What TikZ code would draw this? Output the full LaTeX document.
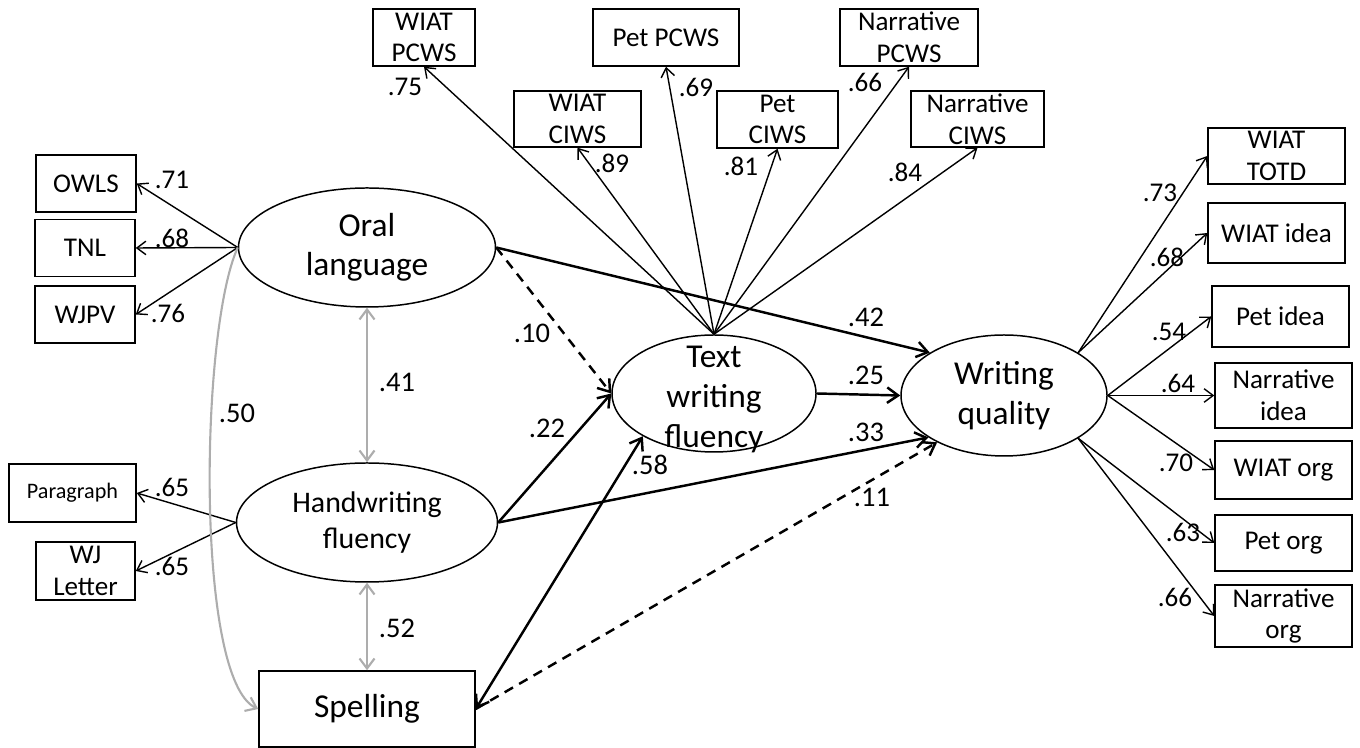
\documentclass[tikz,border=0pt]{standalone}
\usepackage{fontspec}
\setmainfont{Carlito}
\usetikzlibrary{arrows.meta, shapes.geometric}

\begin{document}
\begin{tikzpicture}[
    obs/.style={rectangle, draw, line width=0.85pt, inner sep=0pt, minimum width=#1,
                minimum height=1.14cm, align=center, font=\fontsize{15.4}{18}\selectfont},
    lat/.style={ellipse, draw, line width=0.85pt, inner sep=0pt, align=center,
                font=\fontsize{19}{22.5}\selectfont},
    ind/.style={-{Straight Barb[length=1.8mm,width=2.7mm]}, line width=0.8pt},
    effect/.style={-{Straight Barb[length=2.2mm,width=3.1mm]}, line width=1.4pt},
    cor/.style={{Straight Barb[length=2mm,width=3mm]}-{Straight Barb[length=2mm,width=3mm]},
                black!32, line width=1.2pt},
    lbl/.style={inner sep=0pt, font=\fontsize{15.4}{17}\selectfont},
    biglbl/.style={inner sep=0pt, font=\fontsize{16.2}{18}\selectfont},
  ]
    \useasboundingbox (0,0) rectangle (27.2,14.96);

    % indicators, left
    \node[obs=2cm] (owls) at (1.72,11.29) {OWLS};
    \node[obs=2cm] (tnl)  at (1.70,10.00) {TNL};
    \node[obs=2cm] (wjpv) at (1.70,8.67)  {WJPV};
    \node[obs=2.54cm, minimum height=1.16cm, font=\fontsize{12.6}{15}\selectfont] (para) at (1.45,5.10) {Paragraph};
    \node[obs=1.98cm, minimum height=1.16cm, font=\fontsize{15.4}{18}\selectfont] (wjlet) at (1.71,3.54) {WJ\\Letter};

    % indicators, top
    \node[obs=2.04cm] (wpcws) at (8.48,14.21)  {WIAT\\PCWS};
    \node[obs=2.92cm] (ppcws) at (13.32,14.21) {Pet PCWS};
    \node[obs=2.76cm] (npcws) at (18.18,14.21) {Narrative\\PCWS};
    \node[obs=2.54cm, minimum height=1.12cm] (wciws) at (11.55,12.58) {WIAT\\CIWS};
    \node[obs=2.42cm] (pciws) at (15.55,12.57) {Pet\\CIWS};
    \node[obs=2.66cm, minimum height=1.12cm] (nciws) at (19.55,12.58) {Narrative\\CIWS};

    % indicators, right
    \node[obs=2.74cm, minimum height=1.12cm] (totd)  at (25.53,11.84) {WIAT\\TOTD};
    \node[obs=2.74cm, minimum height=1.20cm] (widea) at (25.53,10.30) {WIAT idea};
    \node[obs=2.74cm, minimum height=1.22cm] (pidea) at (25.61,8.63)  {Pet idea};
    \node[obs=2.74cm, minimum height=1.30cm] (nidea) at (25.67,7.05)  {Narrative\\idea};
    \node[obs=2.74cm, minimum height=1.16cm] (worg)  at (25.67,5.56)  {WIAT org};
    \node[obs=2.74cm, minimum height=1.12cm] (porg)  at (25.67,4.10)  {Pet org};
    \node[obs=2.74cm, minimum height=1.24cm] (norg)  at (25.67,2.64)  {Narrative\\org};

    % latent variables
    \node[lat, minimum width=5.14cm, minimum height=2.38cm] (oral) at (7.34,10.01) {Oral\\language};
    \node[lat, minimum width=5.22cm, minimum height=2.38cm, font=\fontsize{17}{20.5}\selectfont] (hand) at (7.34,4.51) {Handwriting\\fluency};
    \node[lat, minimum width=4.08cm, minimum height=2.34cm] (twf) at (14.28,7.09) {};
    \node[inner sep=0pt, align=center, font=\fontsize{19}{23}\selectfont] (twftext) at (14.28,6.97) {Text\\writing\\fluency};
    \node[lat, minimum width=4.12cm, minimum height=2.42cm] (wq) at (20.08,7.05) {Writing\\quality};
    \node[obs=4.32cm, minimum height=1.52cm, font=\fontsize{19}{22}\selectfont] (spell) at (7.34,0.78) {Spelling};

    % loadings
    \foreach \b in {owls,tnl,wjpv} \draw[ind] (oral.west) -- (\b.east);
    \foreach \b in {para,wjlet} \draw[ind] (hand.west) -- (\b.east);
    \foreach \b in {wpcws,wciws,ppcws,pciws,npcws,nciws} \draw[ind] (twf.north) -- (\b.south);
    \foreach \b in {totd,widea} \draw[ind] (wq.30) -- (\b.west);
    \foreach \b in {pidea,nidea,worg} \draw[ind] (wq.east) -- (\b.west);
    \foreach \b in {porg,norg} \draw[ind] (wq.-30) -- (\b.west);

    % correlations
    \draw[cor] (oral.south) -- (hand.north);
    \draw[cor] (hand.south) -- (spell.north);
    \draw[-{Straight Barb[length=2mm,width=3mm]}, black!32, line width=1.2pt]
      (oral.west) .. controls (4.0,8.36) and (3.9,1.36) .. (spell.west);

    % paths
    \draw[effect] (oral.east) -- (wq.150);
    \draw[effect, dash pattern=on 5.5pt off 4pt] (oral.east) -- (twf.west);
    \draw[effect] (hand.east) -- (twf.west);
    \draw[effect] (hand.east) -- (wq.209);
    \draw[effect] (twf.east) -- (wq.west);
    \draw[effect, {Straight Barb[length=2.2mm,width=3.1mm]}-{Straight Barb[length=2.2mm,width=3.1mm]}]
      (spell.east) -- (twf.211);
    \draw[effect, dash pattern=on 5.5pt off 4pt] (spell.east) -- (wq.215);

    % coefficients
    \foreach \v/\x/\y [count=\i] in {.71/3.44/11.36, .68/3.44/10.20, .76/3.36/8.70,
        .65/3.44/5.22, .65/3.44/3.64, .75/8.10/13.22, .89/12.24/11.70, .69/13.92/13.22,
        .81/14.82/11.64, .66/17.30/13.32, .84/18.10/11.52, .73/23.20/11.10,
        .68/23.34/9.82, .54/23.38/8.32, .64/23.56/7.30, .70/23.52/5.70,
        .63/23.66/4.32, .66/23.50/3.02}
      \node[lbl] (m\i) at (\x,\y) {\v};
    \foreach \v/\x/\y [count=\i] in {.41/7.94/7.32, .52/7.94/2.40, .50/4.74/6.70,
        .10/10.64/8.30, .42/17.32/8.62, .25/17.32/7.46, .22/10.94/6.40,
        .33/17.32/6.32, .58/13.00/5.66, .11/17.44/5.02}
      \node[biglbl] (s\i) at (\x,\y) {\v};
\end{tikzpicture}
\end{document}
